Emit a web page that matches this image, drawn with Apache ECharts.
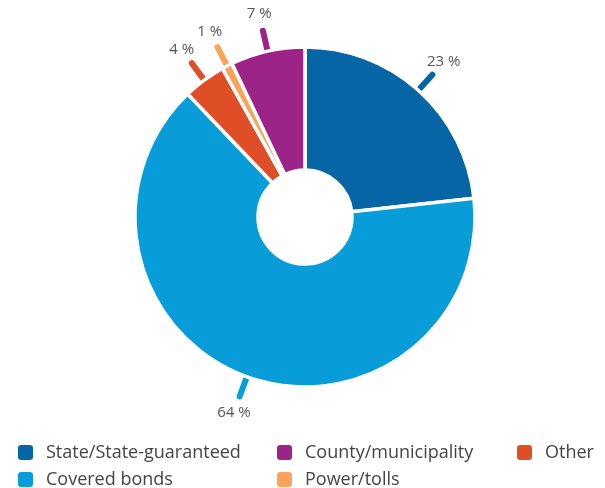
<!DOCTYPE html>
<html>
<head>
<meta charset="utf-8">
<script src="https://cdn.jsdelivr.net/npm/echarts@6/dist/echarts.min.js"></script>
<style>
html,body{margin:0;padding:0;background:#fff;}
#c{width:605px;height:488px;}
</style>
</head>
<body>
<div id="c"></div>
<script>
var categories = ['State/State-guaranteed', 'Covered bonds', 'Other', 'Power/tolls', 'County/municipality'];
var values = [23, 64, 4, 1, 7];
var colors = ['#0565a5', '#089cd8', '#df4e27', '#f9a45a', '#9c2486'];
var labelTexts = ['23 %', '64 %', '4 %', '1 %', '7 %'];

var chart = echarts.init(document.getElementById('c'), null, {renderer: 'canvas'});
var data = categories.map(function (n, i) {
  return { name: n, value: values[i], itemStyle: { color: colors[i] } };
});
var legendText = { fontFamily: 'Open Sans', fontSize: 18, lineHeight: 18, color: '#444', padding: [0, 0, 0, 7] };
function mkLegend(left, names) {
  return {
    orient: 'vertical', left: left, top: 443, height: 80, padding: 0,
    itemWidth: 17, itemHeight: 17, itemGap: 8,
    icon: 'roundRect', textStyle: legendText, data: names,
    selectedMode: false
  };
}
chart.setOption({
  animation: false,
  legend: [
    mkLegend(16, [categories[0], categories[1]]),
    mkLegend(275, [categories[4], categories[3]]),
    mkLegend(515, [categories[2]])
  ],
  series: [{
    type: 'pie',
    center: [305, 217],
    radius: [47, 170],
    startAngle: 90,
    clockwise: true,
    avoidLabelOverlap: false,
    itemStyle: { borderColor: '#fff', borderWidth: 3.5 },
    label: {
      show: true, position: 'outside',
      formatter: function (p) { return labelTexts[p.dataIndex]; },
      fontFamily: 'Open Sans', fontSize: 15, color: '#555'
    },
    labelLine: { show: true, length: 21, length2: 0, lineStyle: { width: 6, cap: 'round' } },
    labelLayout: function (p) {
      var pts = p.labelLinePoints;
      if (!pts) return {};
      var a = pts[0], b = pts[1];
      var dx = b[0] - a[0], dy = b[1] - a[1];
      var len = Math.sqrt(dx * dx + dy * dy) || 1;
      var d = 17;
      return {
        x: b[0] + dx / len * d, y: b[1] + dy / len * d,
        align: 'center', verticalAlign: 'middle',
        labelLinePoints: pts
      };
    },
    emphasis: { disabled: true },
    data: data
  }]
});
</script>
</body>
</html>
